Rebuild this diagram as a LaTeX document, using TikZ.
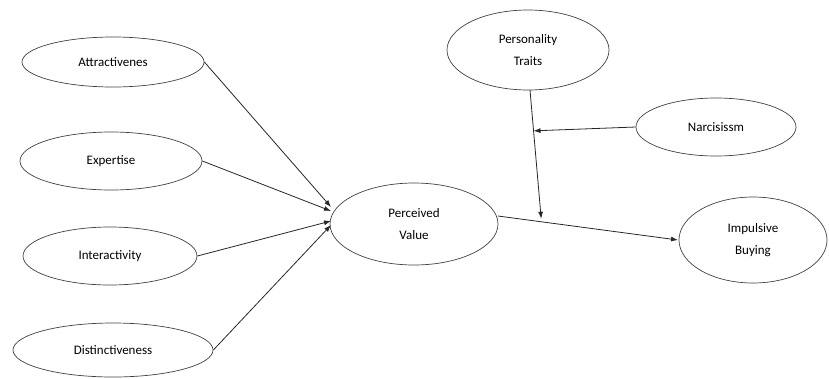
\documentclass[tikz,border=0pt]{standalone}
\usepackage{fontspec}
\setmainfont{Carlito}
\usetikzlibrary{shapes.geometric,arrows.meta,calc}
\begin{document}
\begin{tikzpicture}[x=1pt,y=-1pt,
  var/.style={draw=black!75,line width=0.7pt,ellipse,inner sep=0pt,align=center,font=\fontsize{13}{22}\selectfont,text=black},
  link/.style={draw=black!85,line width=0.8pt,-{Latex[length=7pt,width=5pt]}}]
\useasboundingbox (0,0) rectangle (829,378);
\node[var,minimum width=182pt,minimum height=50pt] (att) at (113,62) {Attractivenes};
\node[var,minimum width=182pt,minimum height=58pt] (exp) at (111,161) {Expertise};
\node[var,minimum width=174pt,minimum height=58pt] (int) at (110,256) {Interactivity};
\node[var,minimum width=200pt,minimum height=54pt] (dis) at (113,350) {Distinctiveness};
\node[var,minimum width=168pt,minimum height=82pt] (pv) at (414,224) {Perceived\\Value};
\node[var,minimum width=162pt,minimum height=80pt] (pt) at (528,50) {Personality\\Traits};
\node[var,minimum width=160pt,minimum height=58pt] (nar) at (716,127) {Narcisissm};
\node[var,minimum width=148pt,minimum height=86pt] (ib) at (753,240) {Impulsive\\Buying};
\coordinate (t1) at (331,207);
\coordinate (t2) at (331,211);
\coordinate (t3) at (331,221);
\coordinate (t4) at (331,225);
\draw[link] (att.east) -- (t1);
\draw[link] (exp.east) -- (t2);
\draw[link] (int.east) -- (t3);
\draw[link] (dis.east) -- (t4);
\coordinate (pvo) at (498,216);
\coordinate (ibi) at (678,240);
\draw[link] (pvo) -- (ibi);
\coordinate (m) at ($(pvo)!0.24!(ibi)$);
\coordinate (pto) at (530,90);
\draw[link] (pto) -- ($(m)+(0,-3)$);
\coordinate (n) at ($(pto)!0.31!(m)$);
\draw[link] (nar.west) -- (n);
\end{tikzpicture}
\end{document}
